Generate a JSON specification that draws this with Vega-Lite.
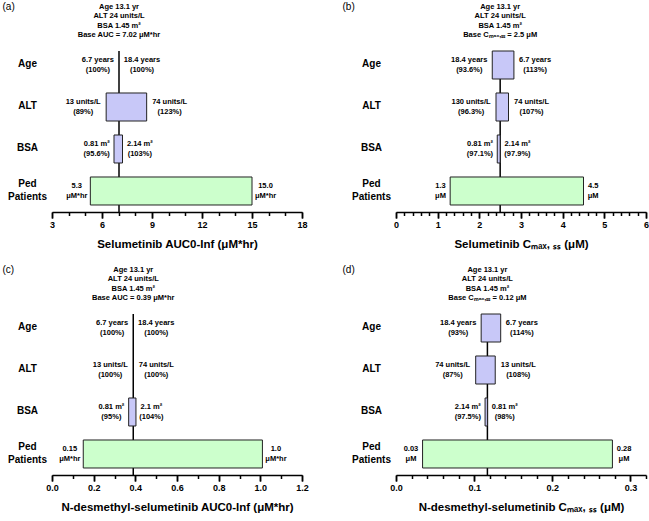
{
  "$schema": "https://vega.github.io/schema/vega-lite/v6.json",
  "padding": {"left": 2, "top": 1, "right": 0, "bottom": 0},
  "config": {
    "font": "Liberation Sans",
    "view": {"stroke": null},
    "axisX": {"domainColor": "black", "domainWidth": 1.5, "ticks": true, "tickColor": "black", "tickWidth": 1.5, "labelFontSize": 9, "labelFontWeight": "bold", "labelColor": "black", "labelPadding": 2, "titleFontSize": 11.5, "titleFontWeight": "bold", "titleColor": "black", "titlePadding": 9, "grid": false, "labelFlush": false, "labelOverlap": false},
    "axisY": {"domain": false, "ticks": false, "tickSize": 0, "grid": false, "labelAlign": "center", "labelBaseline": "middle", "labelPadding": 25, "labelFontSize": 10, "labelFontWeight": "bold", "labelColor": "black", "labelLineHeight": 13, "labelOffset": {"condition": {"test": "datum.value == 'Ped Patients'", "value": -7}, "value": -1}, "titleAngle": 0, "titleFontWeight": "normal", "titleFontSize": 10, "titleColor": "black", "titleAlign": "left", "titleBaseline": "top", "titleX": -50, "titleY": -1}
  },
  "columns": 2,
  "spacing": {"row": 14, "column": 33},
  "concat": [
    {
      "width": 250, "height": 210,
      "data": {"values": [
        {"row": "Age", "lo": 7.02, "hi": 7.02, "grp": "cov", "lt": "6.7 years\n(100%)", "rt": "18.4 years\n(100%)"},
        {"row": "ALT", "lo": 6.25, "hi": 8.68, "grp": "cov", "lt": "13 units/L\n(89%)", "rt": "74 units/L\n(123%)"},
        {"row": "BSA", "lo": 6.72, "hi": 7.23, "grp": "cov", "lt": "0.81 m²\n(95.6%)", "rt": "2.14 m²\n(103%)"},
        {"row": "Ped Patients", "lo": 5.3, "hi": 15.0, "grp": "ped", "lt": "5.3\nμM*hr", "rt": "15.0\nμM*hr"}
      ]},
      "encoding": {
        "y": {"field": "row", "type": "nominal", "scale": {"domain": ["hdr", "Age", "ALT", "BSA", "Ped Patients"], "paddingInner": 0.3333, "paddingOuter": 0.1667}, "axis": {"title": "(a)", "labelExpr": "datum.value == 'hdr' ? '' : split(datum.value, ' ')"}}
      },
      "resolve": {"axis": {"x": "independent"}},
      "layer": [
        {
          "data": {"values": [{"row": "hdr", "top": "Age", "base": 7.02}]},
          "mark": {"type": "rule", "color": "black", "strokeWidth": 1.5},
          "encoding": {
            "x": {"field": "base", "type": "quantitative", "scale": {"domain": [3, 18], "nice": false, "zero": false},
              "axis": {"orient": "bottom", "title": "Selumetinib AUC0-Inf (μM*hr)", "values": [3, 6, 9, 12, 15, 18], "ticks": true, "tickOpacity": 1, "tickSize": 6, "format": "d", "labelOverlap": false}},
            "y": {"field": "top", "type": "nominal", "bandPosition": 0},
            "y2": {"value": "height"}
          }
        },
        {
          "data": {"values": [{"row": "hdr", "base": 7.02, "txt": "Age 13.1 yr\nALT 24 units/L\nBSA 1.45 m²\nBase AUC = 7.02 μM*hr"}]},
          "mark": {"type": "text", "fontSize": 7.5, "fontWeight": "bold", "lineBreak": "\n", "lineHeight": 9.4, "baseline": "middle", "dy": -16, "color": "black"},
          "encoding": {"x": {"field": "base", "type": "quantitative", "axis": {"orient": "bottom", "title": null, "labels": false, "domain": false, "tickSize": 6, "values": [3, 6, 9, 12, 15, 18]}}, "text": {"field": "txt"}}
        },
        {
          "transform": [{"filter": "datum.hi > datum.lo"}],
          "mark": {"type": "bar", "stroke": "#222", "strokeWidth": 1},
          "encoding": {
            "x": {"field": "lo", "type": "quantitative", "axis": {"orient": "bottom", "title": null, "labels": false, "domain": false, "tickSize": 3.5, "values": [4, 5, 7, 8, 10, 11, 13, 14, 16, 17]}}, "x2": {"field": "hi"},
            "fill": {"field": "grp", "type": "nominal", "scale": {"domain": ["cov", "ped"], "range": ["#c8c8f8", "#ccffcc"]}, "legend": null}
          }
        },
        {
          "mark": {"type": "text", "fontSize": 7.5, "fontWeight": "bold", "lineBreak": "\n", "lineHeight": 9.4, "align": "center", "baseline": "middle", "dy": -4.7, "color": "black",
            "dx": {"expr": "-(4 + 1.9*max(length(split(datum.lt, '\\n')[0]), length(split(datum.lt, '\\n')[1])))"}},
          "encoding": {"x": {"field": "lo", "type": "quantitative", "axis": null}, "text": {"field": "lt"}}
        },
        {
          "mark": {"type": "text", "fontSize": 7.5, "fontWeight": "bold", "lineBreak": "\n", "lineHeight": 9.4, "align": "center", "baseline": "middle", "dy": -4.7, "color": "black",
            "dx": {"expr": "4 + 1.9*max(length(split(datum.rt, '\\n')[0]), length(split(datum.rt, '\\n')[1]))"}},
          "encoding": {"x": {"field": "hi", "type": "quantitative", "axis": null}, "text": {"field": "rt"}}
        }
      ]
    },
    {
      "width": 250, "height": 210,
      "data": {"values": [
        {"row": "Age", "lo": 2.31, "hi": 2.83, "grp": "cov", "lt": "18.4 years\n(93.6%)", "rt": "6.7 years\n(113%)"},
        {"row": "ALT", "lo": 2.4, "hi": 2.7, "grp": "cov", "lt": "130 units/L\n(96.3%)", "rt": "74 units/L\n(107%)"},
        {"row": "BSA", "lo": 2.43, "hi": 2.5, "grp": "cov", "lt": "0.81 m²\n(97.1%)", "rt": "2.14 m²\n(97.9%)"},
        {"row": "Ped Patients", "lo": 1.3, "hi": 4.5, "grp": "ped", "lt": "1.3\nμM", "rt": "4.5\nμM"}
      ]},
      "encoding": {
        "y": {"field": "row", "type": "nominal", "scale": {"domain": ["hdr", "Age", "ALT", "BSA", "Ped Patients"], "paddingInner": 0.3333, "paddingOuter": 0.1667}, "axis": {"title": "(b)", "titleX": -54, "labelExpr": "datum.value == 'hdr' ? '' : split(datum.value, ' ')"}}
      },
      "resolve": {"axis": {"x": "independent"}},
      "layer": [
        {
          "data": {"values": [{"row": "hdr", "top": "Age", "base": 2.5}]},
          "mark": {"type": "rule", "color": "black", "strokeWidth": 1.5},
          "encoding": {
            "x": {"field": "base", "type": "quantitative", "scale": {"domain": [0, 6], "nice": false, "zero": false},
              "axis": {"orient": "bottom", "title": "Selumetinib Cₘₐₓ, ₛₛ (μM)", "values": [0, 1, 2, 3, 4, 5, 6], "ticks": true, "tickOpacity": 1, "tickSize": 6, "format": "d", "labelOverlap": false}},
            "y": {"field": "top", "type": "nominal", "bandPosition": 0},
            "y2": {"value": "height"}
          }
        },
        {
          "data": {"values": [{"row": "hdr", "base": 2.5, "txt": "Age 13.1 yr\nALT 24 units/L\nBSA 1.45 m²\nBase Cₘₐₓ,ₛₛ = 2.5 μM"}]},
          "mark": {"type": "text", "fontSize": 7.5, "fontWeight": "bold", "lineBreak": "\n", "lineHeight": 9.4, "baseline": "middle", "dy": -16, "color": "black"},
          "encoding": {"x": {"field": "base", "type": "quantitative", "axis": {"orient": "bottom", "title": null, "labels": false, "domain": false, "tickSize": 6, "values": [0, 1, 2, 3, 4, 5, 6]}}, "text": {"field": "txt"}}
        },
        {
          "transform": [{"filter": "datum.hi > datum.lo"}],
          "mark": {"type": "bar", "stroke": "#222", "strokeWidth": 1},
          "encoding": {
            "x": {"field": "lo", "type": "quantitative", "axis": {"orient": "bottom", "title": null, "labels": false, "domain": false, "tickSize": 3.5, "values": [0.2,0.4,0.6,0.8,1.2,1.4,1.6,1.8,2.2,2.4,2.6,2.8,3.2,3.4,3.6,3.8,4.2,4.4,4.6,4.8,5.2,5.4,5.6,5.8]}}, "x2": {"field": "hi"},
            "fill": {"field": "grp", "type": "nominal", "scale": {"domain": ["cov", "ped"], "range": ["#c8c8f8", "#ccffcc"]}, "legend": null}
          }
        },
        {
          "mark": {"type": "text", "fontSize": 7.5, "fontWeight": "bold", "lineBreak": "\n", "lineHeight": 9.4, "align": "center", "baseline": "middle", "dy": -4.7, "color": "black",
            "dx": {"expr": "-(4 + 1.9*max(length(split(datum.lt, '\\n')[0]), length(split(datum.lt, '\\n')[1])))"}},
          "encoding": {"x": {"field": "lo", "type": "quantitative", "axis": null}, "text": {"field": "lt"}}
        },
        {
          "mark": {"type": "text", "fontSize": 7.5, "fontWeight": "bold", "lineBreak": "\n", "lineHeight": 9.4, "align": "center", "baseline": "middle", "dy": -4.7, "color": "black",
            "dx": {"expr": "4 + 1.9*max(length(split(datum.rt, '\\n')[0]), length(split(datum.rt, '\\n')[1]))"}},
          "encoding": {"x": {"field": "hi", "type": "quantitative", "axis": null}, "text": {"field": "rt"}}
        }
      ]
    },
    {
      "width": 250, "height": 210,
      "data": {"values": [
        {"row": "Age", "lo": 0.39, "hi": 0.39, "grp": "cov", "lt": "6.7 years\n(100%)", "rt": "18.4 years\n(100%)"},
        {"row": "ALT", "lo": 0.39, "hi": 0.39, "grp": "cov", "lt": "13 units/L\n(100%)", "rt": "74 units/L\n(100%)"},
        {"row": "BSA", "lo": 0.368, "hi": 0.403, "grp": "cov", "lt": "0.81 m²\n(95%)", "rt": "2.1 m²\n(104%)"},
        {"row": "Ped Patients", "lo": 0.15, "hi": 1.01, "grp": "ped", "lt": "0.15\nμM*hr", "rt": "1.0\nμM*hr"}
      ]},
      "encoding": {
        "y": {"field": "row", "type": "nominal", "scale": {"domain": ["hdr", "Age", "ALT", "BSA", "Ped Patients"], "paddingInner": 0.3333, "paddingOuter": 0.1667}, "axis": {"title": "(c)", "labelExpr": "datum.value == 'hdr' ? '' : split(datum.value, ' ')"}}
      },
      "resolve": {"axis": {"x": "independent"}},
      "layer": [
        {
          "data": {"values": [{"row": "hdr", "top": "Age", "base": 0.39}]},
          "mark": {"type": "rule", "color": "black", "strokeWidth": 1.5},
          "encoding": {
            "x": {"field": "base", "type": "quantitative", "scale": {"domain": [0, 1.2], "nice": false, "zero": false},
              "axis": {"orient": "bottom", "title": "N-desmethyl-selumetinib AUC0-Inf (μM*hr)", "values": [0, 0.2, 0.4, 0.6, 0.8, 1.0, 1.2], "ticks": true, "tickOpacity": 1, "tickSize": 6, "format": ".1f", "labelOverlap": false}},
            "y": {"field": "top", "type": "nominal", "bandPosition": 0},
            "y2": {"value": "height"}
          }
        },
        {
          "data": {"values": [{"row": "hdr", "base": 0.39, "txt": "Age 13.1 yr\nALT 24 units/L\nBSA 1.45 m²\nBase AUC = 0.39 μM*hr"}]},
          "mark": {"type": "text", "fontSize": 7.5, "fontWeight": "bold", "lineBreak": "\n", "lineHeight": 9.4, "baseline": "middle", "dy": -16, "color": "black"},
          "encoding": {"x": {"field": "base", "type": "quantitative", "axis": {"orient": "bottom", "title": null, "labels": false, "domain": false, "tickSize": 6, "values": [0, 0.2, 0.4, 0.6, 0.8, 1.0, 1.2]}}, "text": {"field": "txt"}}
        },
        {
          "transform": [{"filter": "datum.hi > datum.lo"}],
          "mark": {"type": "bar", "stroke": "#222", "strokeWidth": 1},
          "encoding": {
            "x": {"field": "lo", "type": "quantitative", "axis": {"orient": "bottom", "title": null, "labels": false, "domain": false, "tickSize": 3.5, "values": [0.1, 0.3, 0.5, 0.7, 0.9, 1.1]}}, "x2": {"field": "hi"},
            "fill": {"field": "grp", "type": "nominal", "scale": {"domain": ["cov", "ped"], "range": ["#c8c8f8", "#ccffcc"]}, "legend": null}
          }
        },
        {
          "mark": {"type": "text", "fontSize": 7.5, "fontWeight": "bold", "lineBreak": "\n", "lineHeight": 9.4, "align": "center", "baseline": "middle", "dy": -4.7, "color": "black",
            "dx": {"expr": "-(4 + 1.9*max(length(split(datum.lt, '\\n')[0]), length(split(datum.lt, '\\n')[1])))"}},
          "encoding": {"x": {"field": "lo", "type": "quantitative", "axis": null}, "text": {"field": "lt"}}
        },
        {
          "mark": {"type": "text", "fontSize": 7.5, "fontWeight": "bold", "lineBreak": "\n", "lineHeight": 9.4, "align": "center", "baseline": "middle", "dy": -4.7, "color": "black",
            "dx": {"expr": "4 + 1.9*max(length(split(datum.rt, '\\n')[0]), length(split(datum.rt, '\\n')[1]))"}},
          "encoding": {"x": {"field": "hi", "type": "quantitative", "axis": null}, "text": {"field": "rt"}}
        }
      ]
    },
    {
      "width": 250, "height": 210,
      "data": {"values": [
        {"row": "Age", "lo": 0.109, "hi": 0.134, "grp": "cov", "lt": "18.4 years\n(93%)", "rt": "6.7 years\n(114%)"},
        {"row": "ALT", "lo": 0.102, "hi": 0.127, "grp": "cov", "lt": "74 units/L\n(87%)", "rt": "13 units/L\n(108%)"},
        {"row": "BSA", "lo": 0.114, "hi": 0.117, "grp": "cov", "lt": "2.14 m²\n(97.5%)", "rt": "0.81 m²\n(98%)"},
        {"row": "Ped Patients", "lo": 0.034, "hi": 0.277, "grp": "ped", "lt": "0.03\nμM", "rt": "0.28\nμM"}
      ]},
      "encoding": {
        "y": {"field": "row", "type": "nominal", "scale": {"domain": ["hdr", "Age", "ALT", "BSA", "Ped Patients"], "paddingInner": 0.3333, "paddingOuter": 0.1667}, "axis": {"title": "(d)", "titleX": -54, "labelExpr": "datum.value == 'hdr' ? '' : split(datum.value, ' ')"}}
      },
      "resolve": {"axis": {"x": "independent"}},
      "layer": [
        {
          "data": {"values": [{"row": "hdr", "top": "Age", "base": 0.117}]},
          "mark": {"type": "rule", "color": "black", "strokeWidth": 1.5},
          "encoding": {
            "x": {"field": "base", "type": "quantitative", "scale": {"domain": [0, 0.32], "nice": false, "zero": false},
              "axis": {"orient": "bottom", "title": "N-desmethyl-selumetinib Cₘₐₓ, ₛₛ (μM)", "values": [0, 0.1, 0.2, 0.3], "ticks": true, "tickOpacity": 1, "tickSize": 6, "format": ".1f", "labelOverlap": false}},
            "y": {"field": "top", "type": "nominal", "bandPosition": 0},
            "y2": {"value": "height"}
          }
        },
        {
          "data": {"values": [{"row": "hdr", "base": 0.117, "txt": "Age 13.1 yr\nALT 24 units/L\nBSA 1.45 m²\nBase Cₘₐₓ,ₛₛ = 0.12 μM"}]},
          "mark": {"type": "text", "fontSize": 7.5, "fontWeight": "bold", "lineBreak": "\n", "lineHeight": 9.4, "baseline": "middle", "dy": -16, "color": "black"},
          "encoding": {"x": {"field": "base", "type": "quantitative", "axis": {"orient": "bottom", "title": null, "labels": false, "domain": false, "tickSize": 6, "values": [0, 0.1, 0.2, 0.3]}}, "text": {"field": "txt"}}
        },
        {
          "transform": [{"filter": "datum.hi > datum.lo"}],
          "mark": {"type": "bar", "stroke": "#222", "strokeWidth": 1},
          "encoding": {
            "x": {"field": "lo", "type": "quantitative", "axis": {"orient": "bottom", "title": null, "labels": false, "domain": false, "tickSize": 3.5, "values": [0.02,0.04,0.06,0.08,0.12,0.14,0.16,0.18,0.22,0.24,0.26,0.28,0.32]}}, "x2": {"field": "hi"},
            "fill": {"field": "grp", "type": "nominal", "scale": {"domain": ["cov", "ped"], "range": ["#c8c8f8", "#ccffcc"]}, "legend": null}
          }
        },
        {
          "mark": {"type": "text", "fontSize": 7.5, "fontWeight": "bold", "lineBreak": "\n", "lineHeight": 9.4, "align": "center", "baseline": "middle", "dy": -4.7, "color": "black",
            "dx": {"expr": "-(4 + 1.9*max(length(split(datum.lt, '\\n')[0]), length(split(datum.lt, '\\n')[1])))"}},
          "encoding": {"x": {"field": "lo", "type": "quantitative", "axis": null}, "text": {"field": "lt"}}
        },
        {
          "mark": {"type": "text", "fontSize": 7.5, "fontWeight": "bold", "lineBreak": "\n", "lineHeight": 9.4, "align": "center", "baseline": "middle", "dy": -4.7, "color": "black",
            "dx": {"expr": "4 + 1.9*max(length(split(datum.rt, '\\n')[0]), length(split(datum.rt, '\\n')[1]))"}},
          "encoding": {"x": {"field": "hi", "type": "quantitative", "axis": null}, "text": {"field": "rt"}}
        }
      ]
    }
  ]
}
